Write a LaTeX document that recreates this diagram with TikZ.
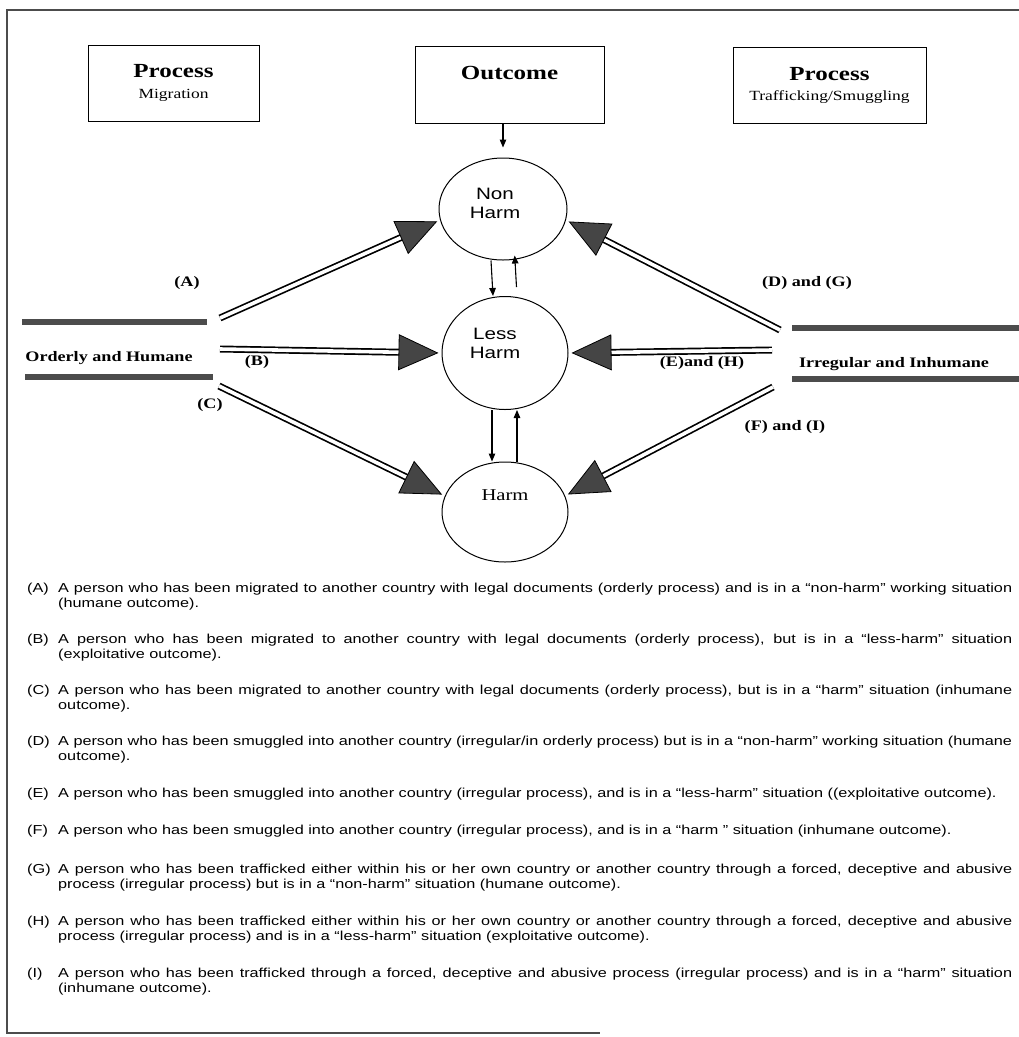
\documentclass[tikz,border=0pt]{standalone}
\usepackage{fontspec}
\setmainfont{Liberation Sans}[FakeStretch=1.25]
\newfontfamily\bodyfont{Liberation Sans}[FakeStretch=1.25]
\newfontfamily\timesfont{Liberation Serif}[FakeStretch=1.25]
\usetikzlibrary{shapes.geometric,arrows.meta}
\definecolor{bargray}{gray}{0.3}
\definecolor{headgray}{gray}{0.27}
\hyphenpenalty=10000
\exhyphenpenalty=10000
\newcommand{\itemfont}{\bodyfont\fontsize{13}{15}\selectfont}
\newcommand{\titlefont}{\timesfont\bfseries\fontsize{20}{26}\selectfont}
\newcommand{\subfont}{\timesfont\fontsize{14}{18}\selectfont}
\newcommand{\sidefont}{\timesfont\bfseries\fontsize{14.5}{17}\selectfont}
\newcommand{\labfont}{\timesfont\bfseries\fontsize{14.5}{17}\selectfont}
% one case of the legend: letter, top, text
\newcommand{\caseitem}[3]{%
  \node[itemtag] (tag#1) at (27,#2) {(#1)};
  \node[item] (item#1) at (58,#2) {#3};}

\begin{document}
\begin{tikzpicture}[x=1pt,y=-1pt,
    headbox/.style={draw, line width=1pt, inner sep=0pt, align=center, font=\subfont},
    state/.style={draw, ellipse, line width=1pt, inner sep=0pt},
    statetext/.style={font=\fontsize{16.5}{19}\selectfont, align=center},
    shaft/.style={draw, double=white, double distance=3.6pt, line width=1.7pt, shorten >=36pt, shorten <=0pt},
    bighead/.style={draw=white, line width=0.2pt, shorten >=3pt,
        -{Triangle[length=40pt,width=36pt,color=black,fill=headgray,line width=0.8pt]}},
    thin/.style={line width=1.1pt, -{Triangle[length=8pt,width=6.5pt]}},
    bar/.style={line width=5.5pt, bargray},
    lab/.style={font=\labfont, inner sep=1pt},
    itemtag/.style={anchor=north west, inner sep=0pt, font=\itemfont},
    item/.style={anchor=north west, inner sep=0pt, text width=954pt, align=justify, font=\itemfont}]
  \useasboundingbox (0,0) rectangle (1019,1037);
  %\draw[help lines] (0,0) grid[step=50] (1019,1037);

  % frame of the page
  \draw[line width=2.5pt, gray!60!black] (1019,10) -- (7,10) -- (7,1033) -- (600,1033);

  % heading boxes
  \node[headbox, minimum width=171pt, minimum height=76pt] (migration) at (173.5,83)
    {{\titlefont Process}\\[3pt]Migration};
  \node[headbox, minimum width=189pt, minimum height=77pt] (outcome) at (509.5,84.5)
    {{\titlefont Outcome}\\[3pt]\phantom{Migration}};
  \node[headbox, minimum width=193pt, minimum height=76pt] (trafficking) at (829.5,85)
    {{\titlefont Process}\\[2pt]Trafficking/Smuggling};

  % outcome states
  \node[state, minimum width=128pt, minimum height=102pt,
    label={[statetext, yshift=6pt, xshift=-8pt]center:Non\\Harm}] (nonharm) at (503,209) {};
  \node[state, minimum width=126pt, minimum height=113pt,
    label={[statetext, yshift=10pt, xshift=-10pt]center:Less\\Harm}] (lessharm) at (505,353) {};
  \node[state, minimum width=126pt, minimum height=100pt,
    label={[font=\timesfont\fontsize{16.5}{19}\selectfont, yshift=17pt]center:Harm}] (harm) at (505,512) {};

  \draw[thin, shorten >=10pt] (outcome.south -| nonharm.north) -- (nonharm.north);
  \draw[thin] ([xshift=-12pt]nonharm.south) -- ([xshift=-12pt]lessharm.north);
  \draw[thin, shorten <=9pt, shorten >=-5pt] ([xshift=12pt]lessharm.north) -- ([xshift=12pt]nonharm.south);
  \draw[thin] ([xshift=-13pt]lessharm.south) -- ([xshift=-13pt]harm.north);
  \draw[thin] ([xshift=12pt]harm.north) -- ([xshift=12pt]lessharm.south);

  % process sides
  \draw[bar] (22,322) -- (207,322);
  \draw[bar] (25,377) -- (213,377);
  \node[font=\sidefont] (orderly) at (109,358) {Orderly and Humane};
  \draw[bar] (792,328) -- (1019,328);
  \draw[bar] (792,379) -- (1019,379);
  \node[font=\sidefont] (irregular) at (894,364) {Irregular and Inhumane};

  % tails of the process arrows
  \coordinate (oA) at (220,318);
  \coordinate (oB) at (220,349);
  \coordinate (oC) at (219,386);
  \coordinate (oD) at (780,330);
  \coordinate (oE) at (772,350);
  \coordinate (oF) at (773,387);

  \foreach \from/\to in {oA/nonharm.190, oB/lessharm.180, oC/harm.165,
                         oD/nonharm.-10, oE/lessharm.0, oF/harm.15}{
    \draw[shaft] (\from) -- (\to);
    \draw[bighead] (\from) -- (\to);
  }

  \node[lab] (labA) at (187,283) {(A)};
  \node[lab] (labB) at (257,362) {(B)};
  \node[lab] (labC) at (210,405) {(C)};
  \node[lab] (labDG) at (807,283) {(D) and (G)};
  \node[lab] (labEH) at (702,363) {(E)and (H)};
  \node[lab] (labFI) at (785,427) {(F) and (I)};

  % legend
  \caseitem{A}{583}{A person who has been migrated to another country with legal documents (orderly process) and is in a “non-harm” working situation\linebreak (humane outcome).}
  \caseitem{B}{634}{A person who has been migrated to another country with legal documents (orderly process), but is in a “less-harm” situation\linebreak (exploitative outcome).}
  \caseitem{C}{685}{A person who has been migrated to another country with legal documents (orderly process), but is in a “harm” situation (inhumane\linebreak outcome).}
  \caseitem{D}{736}{A person who has been smuggled into another country (irregular/in orderly process) but is in a “non-harm” working situation (humane\linebreak outcome).}
  \caseitem{E}{788}{A person who has been smuggled into another country (irregular process), and is in a “less-harm” situation ((exploitative outcome).}
  \caseitem{F}{825}{A person who has been smuggled into another country (irregular process), and is in a “harm ” situation (inhumane outcome).}
  \caseitem{G}{864}{A person who has been trafficked either within his or her own country or another country through a forced, deceptive and abusive\linebreak process (irregular process) but is in a “non-harm” situation (humane outcome).}
  \caseitem{H}{916}{A person who has been trafficked either within his or her own country or another country through a forced, deceptive and abusive\linebreak process (irregular process) and is in a “less-harm” situation (exploitative outcome).}
  \caseitem{I}{968}{A person who has been trafficked through a forced, deceptive and abusive process (irregular process) and is in a “harm” situation\linebreak (inhumane outcome).}
\end{tikzpicture}
\end{document}
